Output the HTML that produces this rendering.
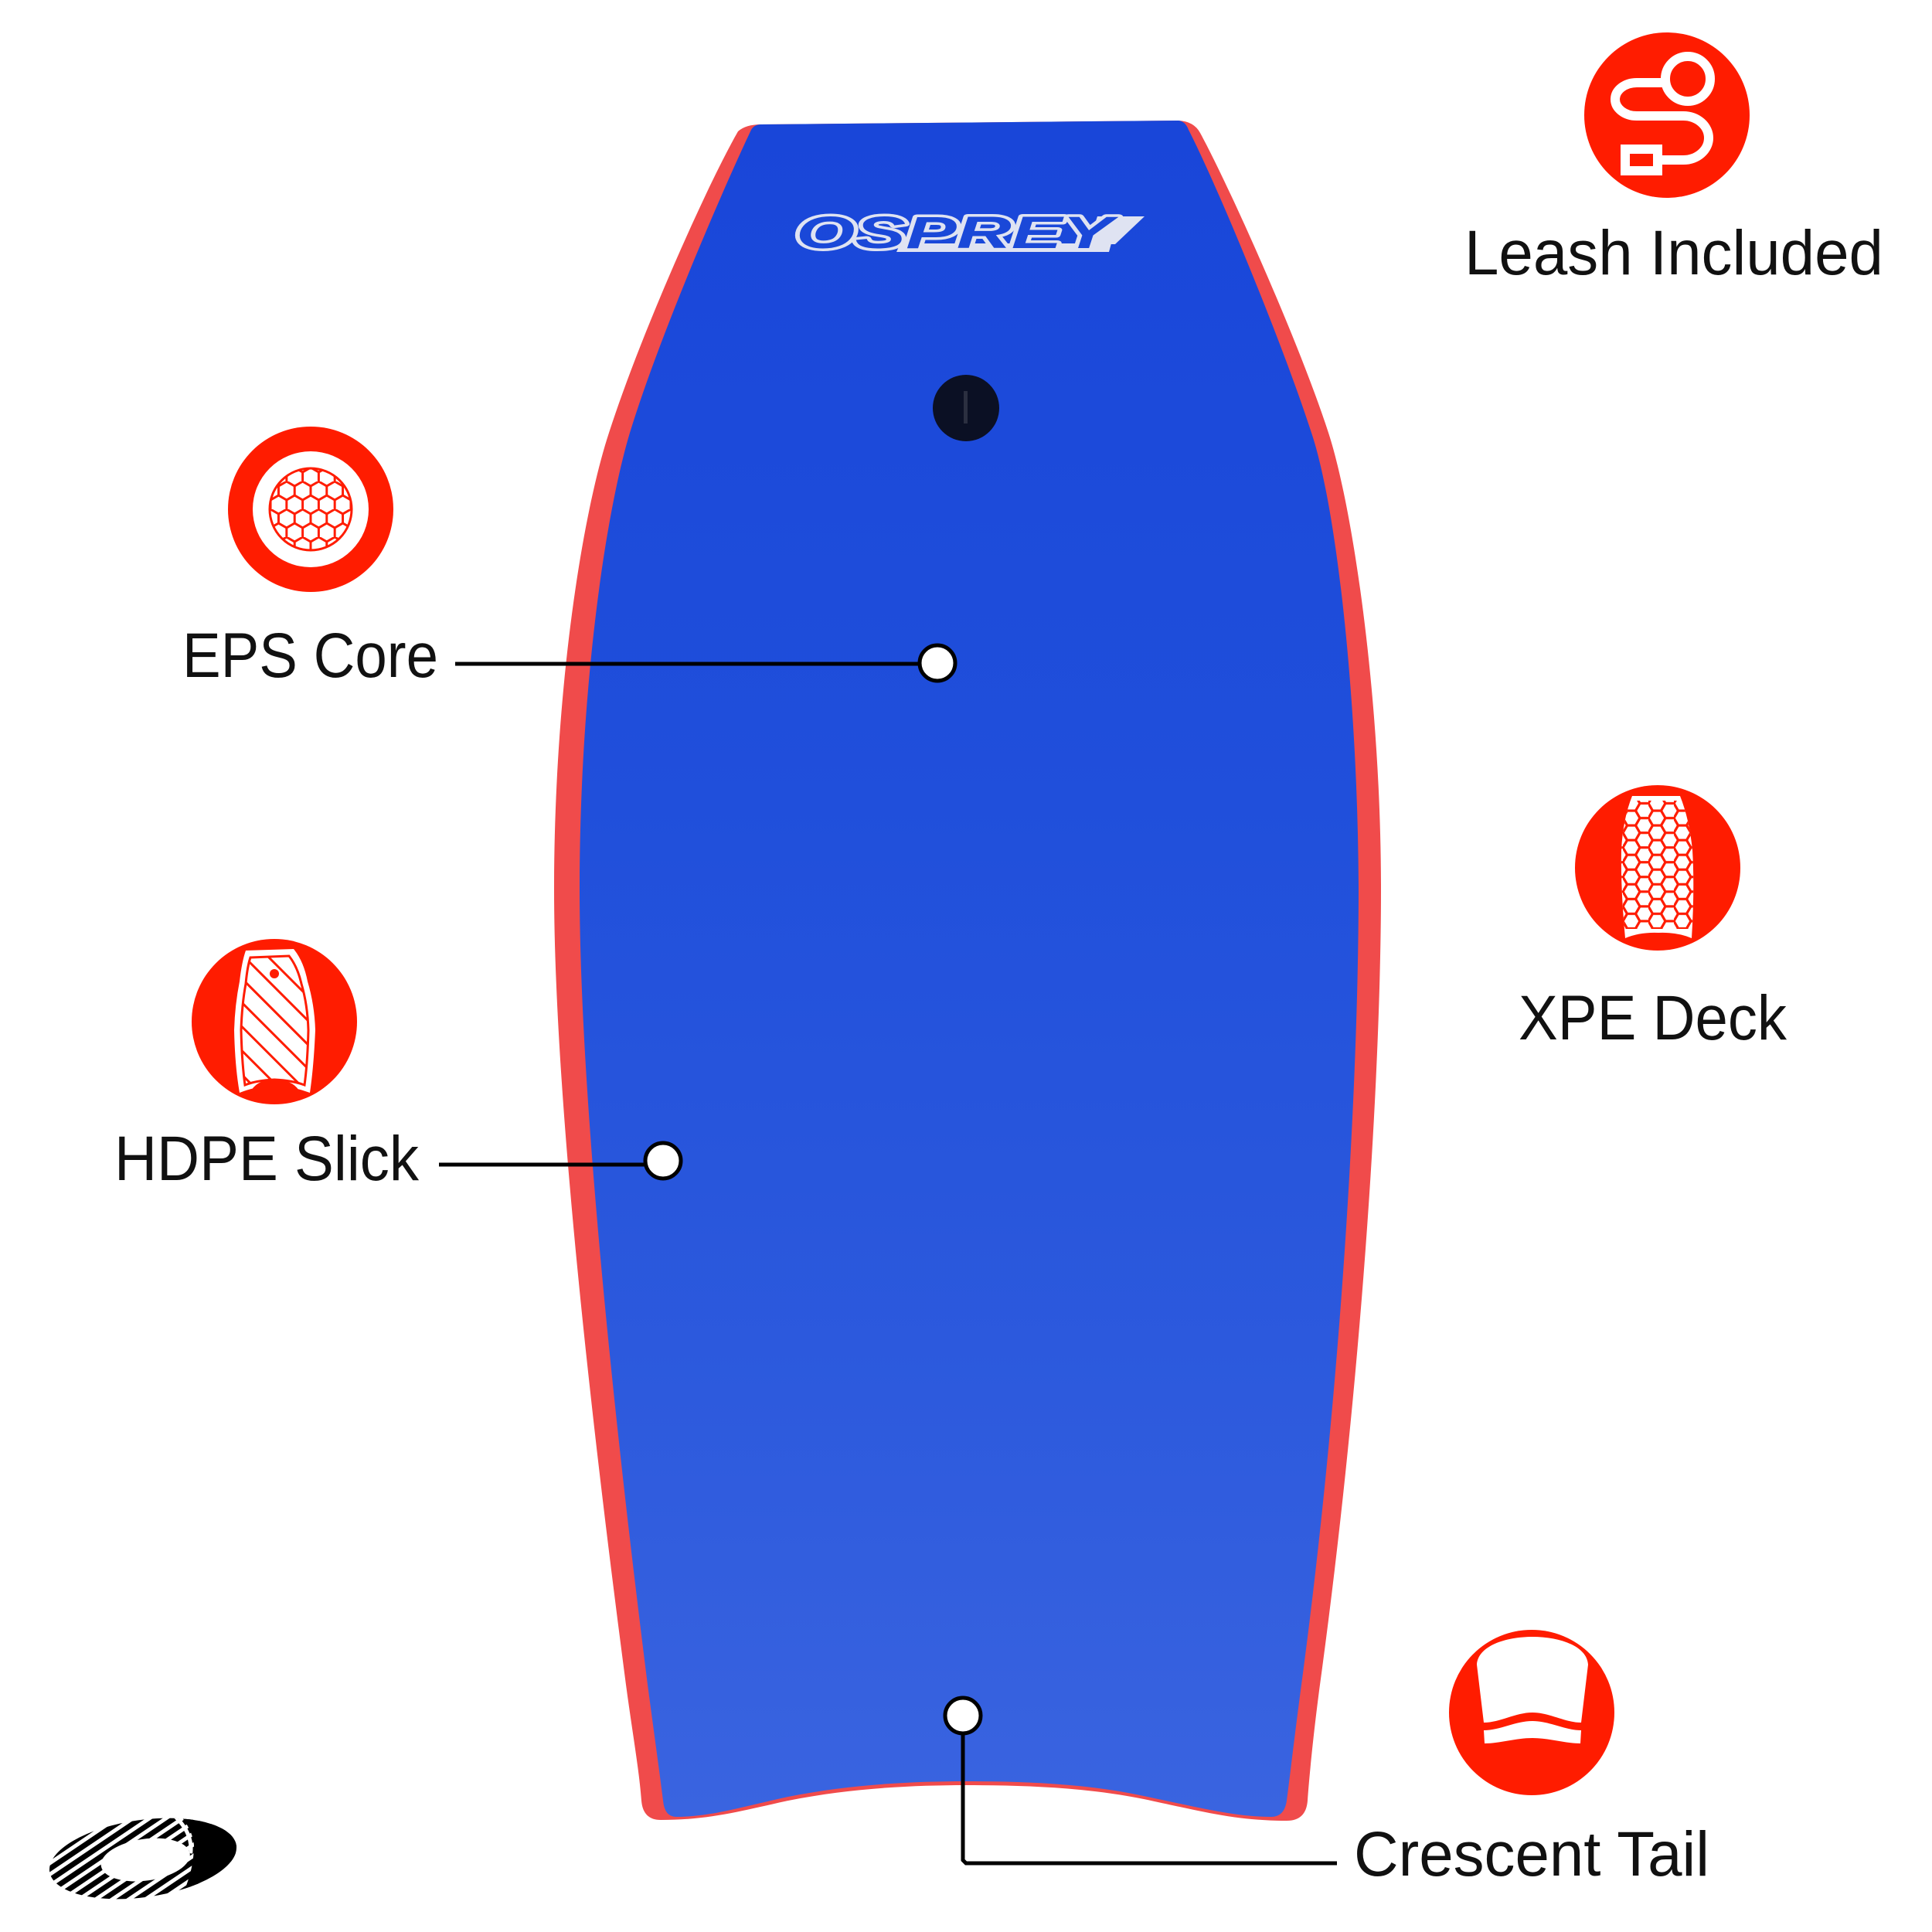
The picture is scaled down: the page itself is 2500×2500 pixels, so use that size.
<!DOCTYPE html>
<html>
<head>
<meta charset="utf-8">
<style>
  html,body{margin:0;padding:0;background:#fff;}
  svg{display:block;}
  .lbl{font-family:"Liberation Sans", Arial, sans-serif;font-size:82px;fill:#111;}
</style>
</head>
<body>
<svg width="2500" height="2500" viewBox="0 0 2500 2500" xmlns="http://www.w3.org/2000/svg">
  <defs>
    <linearGradient id="blueg" gradientUnits="userSpaceOnUse" x1="0" y1="160" x2="0" y2="2356">
      <stop offset="0" stop-color="#1946d9"/>
      <stop offset="0.4" stop-color="#204fdb"/>
      <stop offset="0.75" stop-color="#2d5add"/>
      <stop offset="1" stop-color="#3a64e0"/>
    </linearGradient>
    <!-- flat-top honeycomb, a=11 -->
    <pattern id="hexA" patternUnits="userSpaceOnUse" width="33" height="19.05" x="2100" y="1030">
      <path d="M0,9.53 L5.5,0 L16.5,0 L22,9.53 L16.5,19.05 L5.5,19.05 Z M22,9.53 L33,9.53" fill="none" stroke="#ff1c00" stroke-width="3.2"/>
    </pattern>
    <!-- pointy honeycomb for EPS, a=12 -->
    <pattern id="hexB" patternUnits="userSpaceOnUse" width="36" height="20.78" patternTransform="translate(402,659) rotate(90)">
      <path d="M0,10.39 L6,0 L18,0 L24,10.39 L18,20.78 L6,20.78 Z M24,10.39 L36,10.39" fill="none" stroke="#ff1c00" stroke-width="3"/>
    </pattern>
    <pattern id="hatch" patternUnits="userSpaceOnUse" width="22" height="22" patternTransform="translate(300,1220) rotate(45)">
      <rect x="0" y="0" width="22" height="3" fill="#ff1c00"/>
    </pattern>
    <pattern id="stripes" patternUnits="userSpaceOnUse" width="12" height="12" patternTransform="rotate(-26)">
      <rect x="0" y="0" width="12" height="7" fill="#000"/>
    </pattern>
    <clipPath id="epsClip"><circle cx="402" cy="659" r="53"/></clipPath>
    <clipPath id="xpeClip">
      <path d="M 2112,1030 L 2174,1030 Q 2186,1060 2190,1100 Q 2193,1150 2189,1214 Q 2170,1206 2146,1207 Q 2122,1206 2103,1214 Q 2097,1150 2098,1100 Q 2100,1060 2112,1030 Z"/>
    </clipPath>
    <clipPath id="hdpeClip">
      <path d="M 324,1239 L 374,1237 Q 385,1251 390,1273 Q 398,1300 399,1333 Q 398,1375 394,1404 Q 378,1398 355,1397 Q 332,1398 317,1404 Q 313,1375 312,1333 Q 313,1300 318,1273 Q 320,1251 324,1239 Z"/>
    </clipPath>
    <clipPath id="ringClip">
      <path clip-rule="evenodd" d="M -122,0 A 122,50 0 1 0 122,0 A 122,50 0 1 0 -122,0 Z M -55,2 A 58,27 0 1 0 61,2 A 58,27 0 1 0 -55,2 Z"/>
    </clipPath>
  </defs>

  <rect x="0" y="0" width="2500" height="2500" fill="#ffffff"/>

  <!-- ===== Board ===== -->
  <path fill="#f04b4b" d="M 985,161 L 1525,156 Q 1545,157 1553,172 C 1590,240 1680,440 1719,560 C 1750,655 1787,900 1787,1150 C 1787,1400 1760,1800 1708,2180 C 1700,2240 1694,2300 1692,2330 Q 1690,2356 1665,2356 C 1600,2356 1560,2345 1480,2328 C 1400,2312 1320,2310 1250,2310 C 1180,2310 1100,2314 1020,2330 C 960,2343 920,2355 855,2355 Q 832,2355 830,2330 C 827,2290 818,2240 810,2180 C 760,1800 717,1400 717,1150 C 717,900 752,670 788,560 C 830,430 915,240 955,170 Q 965,161 985,161 Z"/>
  <path fill="url(#blueg)" d="M 985,161 L 1525,156 Q 1534,157 1538,168 C 1575,240 1658,440 1697,560 C 1729,655 1757,900 1758,1150 C 1758,1400 1735,1800 1684,2180 C 1676,2240 1669,2300 1665,2330 Q 1662,2351 1645,2351 C 1600,2351 1560,2341 1480,2324 C 1400,2307 1320,2305 1250,2305 C 1180,2305 1100,2309 1020,2325 C 960,2338 920,2351 875,2351 Q 860,2351 858,2330 C 853,2290 846,2240 838,2180 C 790,1800 750,1400 750,1150 C 750,900 782,670 815,560 C 855,430 938,240 972,168 Q 976,161 985,161 Z"/>

  <!-- Osprey logo -->
  <g>
    <polygon points="1165,315 1438,315 1435,326 1160,326" fill="#dfe3f2"/>
    <polygon points="1420,280 1481,280 1443,316 1408,316" fill="#dfe3f2"/>
    <text x="1030" y="321" font-family="Liberation Sans, Arial, sans-serif" font-weight="bold" font-style="italic" font-size="58" textLength="410" lengthAdjust="spacingAndGlyphs" fill="#1a48d8" stroke="#dfe3f2" stroke-width="7" stroke-linejoin="round" paint-order="stroke">OSPREY</text>
  </g>

  <!-- leash plug cap -->
  <circle cx="1250" cy="528" r="43" fill="#0b1024"/>
  <rect x="1247" y="506" width="5" height="42" fill="#2b2f40"/>

  <!-- ===== Connectors ===== -->
  <line x1="589" y1="859" x2="1192" y2="859" stroke="#000" stroke-width="5"/>
  <circle cx="1213" cy="858" r="23" fill="#fff" stroke="#000" stroke-width="5"/>

  <line x1="568" y1="1507" x2="836" y2="1507" stroke="#000" stroke-width="5"/>
  <circle cx="858" cy="1502" r="23" fill="#fff" stroke="#000" stroke-width="5"/>

  <polyline points="1246,2245 1246,2407 1250,2411 1730,2411" fill="none" stroke="#000" stroke-width="5"/>
  <circle cx="1246" cy="2220" r="23" fill="#fff" stroke="#000" stroke-width="5"/>

  <!-- ===== Icons ===== -->
  <!-- Leash -->
  <circle cx="2157" cy="149" r="107" fill="#ff1c00"/>
  <g fill="none" stroke="#fff" stroke-width="12">
    <circle cx="2184" cy="102" r="29"/>
    <path d="M 2152,107 L 2118,107 A 28,21.5 0 0 0 2118,150 L 2178,150 A 33,28.5 0 0 1 2178,207 L 2150,207"/>
    <rect x="2103" y="193" width="42" height="28"/>
  </g>

  <!-- EPS core -->
  <circle cx="402" cy="659" r="107" fill="#ff1c00"/>
  <circle cx="402" cy="659" r="75" fill="#fff"/>
  <g clip-path="url(#epsClip)">
    <rect x="340" y="600" width="130" height="130" fill="url(#hexB)"/>
  </g>
  <circle cx="402" cy="659" r="53" fill="none" stroke="#ff1c00" stroke-width="3"/>

  <!-- HDPE slick -->
  <circle cx="355" cy="1322" r="107" fill="#ff1c00"/>
  <path fill="#fff" d="M 318,1230 L 380,1228 Q 393,1244 398,1270 Q 407,1300 408,1333 Q 406,1380 401,1414 Q 380,1406 355,1404 Q 330,1406 310,1414 Q 304,1380 303,1333 Q 304,1300 310,1270 Q 313,1244 318,1230 Z"/>
  <g clip-path="url(#hdpeClip)">
    <rect x="300" y="1220" width="110" height="200" fill="url(#hatch)"/>
  </g>
  <path fill="none" stroke="#ff1c00" stroke-width="3" d="M 324,1239 L 374,1237 Q 385,1251 390,1273 Q 398,1300 399,1333 Q 398,1375 394,1404 Q 378,1398 355,1397 Q 332,1398 317,1404 Q 313,1375 312,1333 Q 313,1300 318,1273 Q 320,1251 324,1239 Z"/>
  <circle cx="355" cy="1260" r="6" fill="#ff1c00"/>
  <path fill="#ff1c00" d="M 322,1418 Q 328,1398 355,1396 Q 384,1398 390,1418 Z"/>

  <!-- XPE deck -->
  <circle cx="2145" cy="1123" r="107" fill="#ff1c00"/>
  <path fill="#fff" d="M 2112,1030 L 2174,1030 Q 2186,1060 2190,1100 Q 2193,1150 2189,1214 Q 2170,1206 2146,1207 Q 2122,1206 2103,1214 Q 2097,1150 2098,1100 Q 2100,1060 2112,1030 Z"/>
  <g clip-path="url(#xpeClip)">
    <rect x="2095" y="1036" width="100" height="166" fill="url(#hexA)"/>
  </g>

  <!-- Crescent tail -->
  <circle cx="1982" cy="2216" r="107" fill="#ff1c00"/>
  <path fill="#fff" d="M 1911,2154 C 1914,2106 2052,2106 2055,2154 L 2046,2229 C 2025,2229 2005,2216 1983,2216 C 1961,2216 1941,2229 1920,2229 Z"/>
  <path fill="#fff" d="M 1920,2239 C 1941,2239 1961,2227 1983,2227 C 2005,2227 2025,2239 2046,2239 L 2045,2256 C 2025,2256 2005,2249 1983,2249 C 1961,2249 1941,2256 1921,2256 Z"/>

  <!-- ===== Labels ===== -->
  <text class="lbl" x="1895" y="355" textLength="542" lengthAdjust="spacingAndGlyphs">Leash Included</text>
  <text class="lbl" x="236" y="876" textLength="331" lengthAdjust="spacingAndGlyphs">EPS Core</text>
  <text class="lbl" x="148" y="1527" textLength="394" lengthAdjust="spacingAndGlyphs">HDPE Slick</text>
  <text class="lbl" x="1965" y="1345" textLength="347" lengthAdjust="spacingAndGlyphs">XPE Deck</text>
  <text class="lbl" x="1752" y="2427" textLength="460" lengthAdjust="spacingAndGlyphs">Crescent Tail</text>

  <!-- ===== Bottom-left brand mark ===== -->
  <g transform="translate(185,2405) rotate(-8)">
    <g clip-path="url(#ringClip)">
      <rect x="-130" y="-60" width="260" height="120" fill="url(#stripes)"/>
      <path d="M 48,-60 Q 74,-25 66,2 Q 60,30 40,60 L 140,60 L 140,-60 Z" fill="#000"/>
      <path d="M 40,-58 Q 70,-28 62,2" fill="none" stroke="#fff" stroke-width="5"/>
    </g>
  </g>
</svg>
</body>
</html>
